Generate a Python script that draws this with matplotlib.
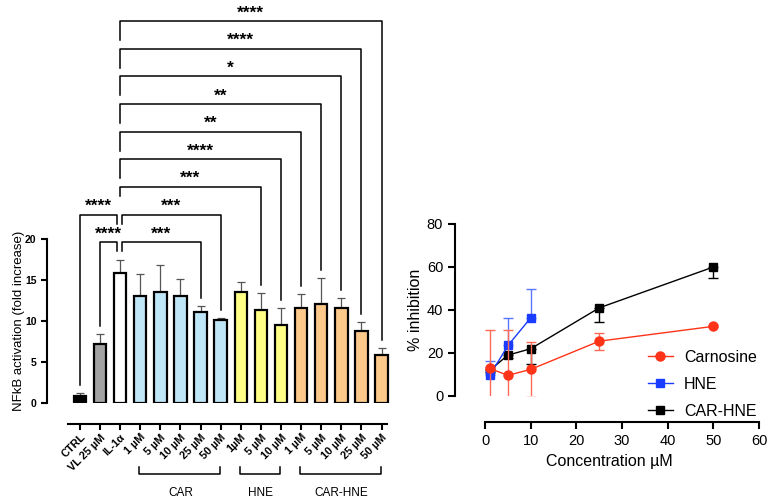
import matplotlib
matplotlib.use("Agg")
import matplotlib.pyplot as plt
from matplotlib.lines import Line2D
import numpy as np

plt.rcParams["font.family"] = ["Liberation Sans", "DejaVu Sans"]

# ---- panel izquierdo: activación NFkB ----
etiquetas = ["CTRL", "VL 25 µM", "IL-1α", "1 µM", "5 µM", "10 µM", "25 µM", "50 µM",
             "1µM", "5 µM", "10 µM", "1 µM", "5 µM", "10 µM", "25 µM", "50 µM"]
medias = [0.9, 7.2, 15.9, 13.0, 13.5, 13.1, 11.1, 10.1,
          13.5, 11.4, 9.5, 11.6, 12.1, 11.6, 8.8, 5.9]
errores = [0.3, 1.2, 1.6, 2.7, 3.3, 2.0, 0.7, 0.3,
           1.2, 2.0, 2.1, 1.7, 3.1, 1.2, 1.1, 0.8]
grupo_barra = ["ctrl", "vl", "il", "car", "car", "car", "car", "car",
               "hne", "hne", "hne", "ch", "ch", "ch", "ch", "ch"]
colores_grupo = {"ctrl": "#000000", "vl": "#a3a3a3", "il": "#ffffff",
                 "car": "#bfe6f7", "hne": "#ffff85", "ch": "#fdc98b"}

# comparaciones significativas (índice origen, índice destino, nivel, texto)
comp_desde = [0, 2, 1, 2, 2, 2, 2, 2, 2, 2, 2]
comp_hasta = [2, 7, 2, 6, 9, 10, 11, 12, 13, 14, 15]
comp_nivel = [1, 1, 0, 0, 2, 3, 4, 5, 6, 7, 8]
comp_texto = ["****", "***", "****", "***", "***", "****", "**", "**", "*", "****", "****"]

grupos_nombre = ["CAR", "HNE", "CAR-HNE"]
grupos_desde = [3, 8, 11]
grupos_hasta = [7, 10, 15]

# ---- panel derecho: % inhibición ----
conc_car = [1, 5, 10, 25, 50]
inh_car = [12.8, 9.6, 12.4, 25.5, 32.4]
err_car = [18.0, 21.0, 12.7, 4.0, 0.5]
conc_hne = [1, 5, 10]
inh_hne = [9.6, 23.5, 36.4]
err_hne = [6.7, 12.7, 13.2]
conc_ch = [1, 5, 10, 25, 50]
inh_ch = [12.0, 19.0, 22.0, 41.0, 60.0]
err_ch = [1.0, 1.5, 7.2, 6.8, 5.0]

fig = plt.figure(figsize=(7.74, 5.01), dpi=100)

# ================= barras =================
ax = fig.add_axes([0.0607, 0.1956, 0.4452, 0.7856])
x = np.arange(len(medias))
colores = [colores_grupo[g] for g in grupo_barra]
ax.bar(x, medias, width=0.62, color=colores, edgecolor="black", linewidth=1.6, zorder=3)
ax.errorbar(x, medias, yerr=[np.zeros(len(errores)), errores], fmt="none",
            ecolor="#555555", elinewidth=0.9, capsize=3, capthick=0.9, zorder=2)

ax.set_xlim(-1.64, 15.5)
ax.set_ylim(0, 48)
ax.spines[["top", "right"]].set_visible(False)
ax.spines["left"].set_bounds(0, 20)
ax.spines["left"].set_linewidth(1.5)
ax.spines["bottom"].set_position(("outward", 15))
ax.spines["bottom"].set_bounds(-0.6, 15.25)
ax.spines["bottom"].set_linewidth(1.5)
ax.set_yticks([0, 5, 10, 15, 20])
ax.set_xticks(x)
ax.set_xticklabels(etiquetas, rotation=45, ha="right", rotation_mode="anchor",
                   fontsize=7.8, fontweight="bold")
for t in ax.get_yticklabels():
    t.set_fontweight("bold")
ax.tick_params(axis="y", labelsize=7.5, length=4, width=1.5)
ax.tick_params(axis="x", length=4, width=1.5, pad=2)
ax.set_ylabel("NFkB activation (fold increase)", fontsize=9.5)
ax.yaxis.set_label_coords(-0.065, 10 / 48)

tope = np.array(medias) + np.array(errores)
for d, h, n, txt in zip(comp_desde, comp_hasta, comp_nivel, comp_texto):
    nivel = 19.6 + 3.37 * n
    xi = d
    xf = h
    if d == 2:
        xi = 2.1 if n <= 1 else 2.0
    if h == 2:
        xf = 1.85
    # pata izquierda
    if d == 2:
        yi = nivel - (1.1 if n <= 2 else 2.3)
    else:
        yi = tope[d] + 1.0
    # pata derecha
    if h == 2:
        yf = nivel - 1.1
    else:
        yf = tope[h] + 1.0
    ax.plot([xi, xi, xf, xf], [yi, nivel, nivel, yf], color="black", lw=1.1,
            clip_on=False, zorder=4)
    ax.text((xi + xf) / 2, nivel + 0.1, txt, ha="center", va="bottom",
            fontsize=12.5, fontweight="bold")

for nombre, d, h in zip(grupos_nombre, grupos_desde, grupos_hasta):
    ax.plot([d - 0.05, d - 0.05, h - 0.05, h - 0.05], [-7.8, -8.6, -8.6, -7.8],
            color="black", lw=1.1, clip_on=False)
    ax.text((d + h) / 2, -10.2, nombre, ha="center", va="top", fontsize=8.5)

# ================= inhibición =================
ax2 = fig.add_axes([0.5879, 0.2096, 0.3987, 0.3433])
cero_ch = np.zeros(len(err_ch))
cero_hne = np.zeros(len(err_hne))
# CAR-HNE solo barra inferior, HNE solo superior, carnosina ambas
ax2.errorbar(conc_ch, inh_ch, yerr=[err_ch, cero_ch], color="black", marker="s",
             markersize=6, lw=1.0, elinewidth=1.0, capsize=3.5, capthick=1.0, zorder=3)
ax2.errorbar(conc_hne, inh_hne, yerr=[cero_hne, err_hne], color="#1a3cff", ecolor="#5a78ff",
             marker="s", markersize=6, lw=1.0, elinewidth=1.0, capsize=3.5, capthick=1.0,
             zorder=4)
ax2.errorbar(conc_car, inh_car, yerr=err_car, color="#ff3318", ecolor="#ff6a58",
             marker="o", markersize=6.5, lw=1.0, elinewidth=1.0, capsize=3.5, capthick=1.0,
             zorder=5)

ax2.set_xlim(-6.6, 61)
ax2.set_ylim(0, 80)
ax2.spines[["top", "right"]].set_visible(False)
ax2.spines["left"].set_bounds(0, 80)
ax2.spines["left"].set_linewidth(1.5)
ax2.spines["bottom"].set_position(("outward", 19))
ax2.spines["bottom"].set_bounds(0, 60)
ax2.spines["bottom"].set_linewidth(1.5)
ax2.set_xticks(np.arange(0, 61, 10))
ax2.set_yticks(np.arange(0, 81, 20))
ax2.tick_params(labelsize=10.5, length=5, width=1.5)
ax2.set_xlabel("Concentration µM", fontsize=11.5)
ax2.set_ylabel("% inhibition", fontsize=11.5)
ax2.yaxis.set_label_coords(-0.105, 0.5)

manejadores = [
    Line2D([], [], color="#ff3318", marker="o", markersize=6.5, lw=1.0),
    Line2D([], [], color="#1a3cff", marker="s", markersize=6, lw=1.0),
    Line2D([], [], color="black", marker="s", markersize=6, lw=1.0),
]
ax2.legend(manejadores, ["Carnosine", "HNE", "CAR-HNE"], loc="upper left",
           bbox_to_anchor=(0.818, 0.33), bbox_transform=fig.transFigure,
           frameon=False, fontsize=11.5, handlelength=1.6, handletextpad=0.7,
           labelspacing=0.75)

fig.savefig("out.png", dpi=100)
